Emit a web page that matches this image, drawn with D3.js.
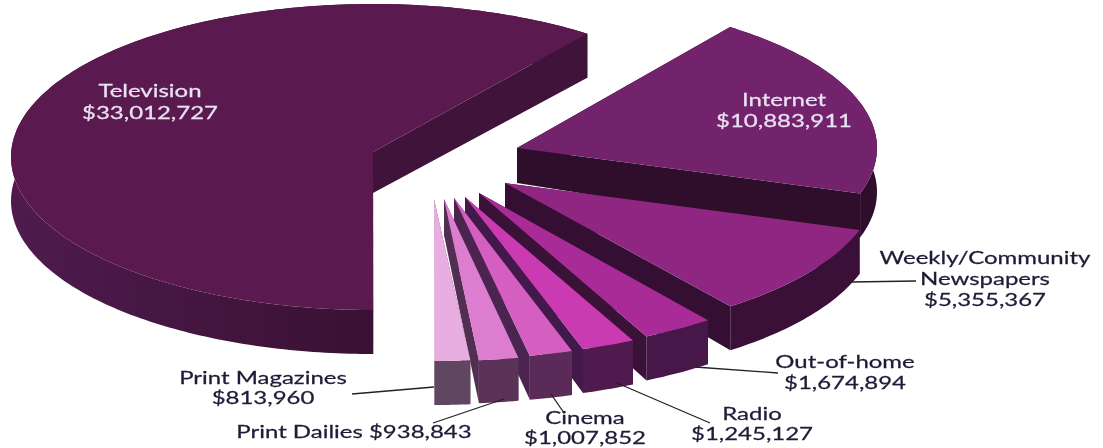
<!DOCTYPE html>
<html><head><meta charset="utf-8">
<script src="https://cdn.jsdelivr.net/npm/d3@7/dist/d3.min.js"></script>
<style>html,body{margin:0;padding:0;background:#fff;overflow:hidden}svg{display:block;filter:blur(0.55px)}text{font-family:Lato,"Open Sans",sans-serif;text-anchor:middle}</style>
</head><body><svg id="c" width="1103" height="448"></svg>
<script>
// data
const categories = ["Internet","Weekly/Community Newspapers","Out-of-home","Radio","Cinema","Print Dailies","Print Magazines","Television"];
const values = [10883911,5355367,1674894,1245127,1007852,938843,813960,33012727];
const valueLabels = ["$10,883,911","$5,355,367","$1,674,894","$1,245,127","$1,007,852","$938,843","$813,960","$33,012,727"];

// styles
const topColors  = ["#73226c","#8f2782","#a82b97","#ca3ab1","#d55fc0","#dd7dd0","#e8aee1","#5a1a4f"];
const rimColors  = ["#2f0e2b","#3a1038","#47174a","#4f1b4f","#5a2a58","#5b3358","#604660","url(#tvRim)"];
const wallColors = ["#2f0e2b","#350f33","#3a1238","#43184a","#4c2450","#522e53","#604660","#40143a"];
// exploded geometry
const apexX = [517,505,479,465,454,444,434,373];
const apexY = [148,183,193,197,198,199,199,152];
const arcShiftY = [0,0,0,0,0,0,0,5];
const radX  = [360,372,378,379,379,372,387,362];
const radY  = [150,155,160,160,161,162,162,153];
const depth = [44,44,44,44,44,43,44,44];
const apexDepth = [35,36,36,36,36,36,36,41];

// annotation layout
const labelLines = [
 [["Internet",784,106,"#e9e2f2"],["$10,883,911",784,127,"#e9e2f2"]],
 [["Weekly/Community",985,264],["Newspapers",985,285],["$5,355,367",985,306]],
 [["Out-of-home",845,368],["$1,674,894",845,389]],
 [["Radio",752,420],["$1,245,127",752,440]],
 [["Cinema",585,424],["$1,007,852",585,444]],
 [["Print Dailies $938,843",354,438]],
 [["Print Magazines",263,384],["$813,960",263,404]],
 [["Television",150,97,"#e9e2f2"],["$33,012,727",150,119,"#e9e2f2"]]
];
const leaders = [null,
 [[851,282],[916,281]],
 [[695,367],[778,373]],
 [[617,383],[710,423]],
 [[551,394],[564,413]],
 [[504,399],[433,423]],
 [[434,387],[352,394]],
 null];

const svg = d3.select("#c");
const grad = svg.append("defs").append("linearGradient").attr("id","tvRim");
grad.append("stop").attr("offset","0%").attr("stop-color","#4f1b4e");
grad.append("stop").attr("offset","55%").attr("stop-color","#3c1237");
grad.append("stop").attr("offset","100%").attr("stop-color","#2e0c2a");

const arcs = d3.pie().sort(null).startAngle(36.3*Math.PI/180).endAngle(36.3*Math.PI/180+2*Math.PI)(values);
const line = d3.line();
const order = [7,0,1,2,3,4,5,6];

order.forEach(i=>{
  const a = arcs[i];
  const pt = (t,dz=0)=>[apexX[i]+radX[i]*Math.sin(t), apexY[i]+arcShiftY[i]-radY[i]*Math.cos(t)+dz];
  const n = Math.max(8,Math.ceil((a.endAngle-a.startAngle)*60));
  const ts = d3.range(n+1).map(k=>a.startAngle+(a.endAngle-a.startAngle)*k/n);
  const topArc = ts.map(t=>pt(t));
  const botArc = ts.map(t=>pt(t,depth[i]));
  const c0=[apexX[i],apexY[i]], c1=[apexX[i],apexY[i]+apexDepth[i]];
  const g = svg.append("g").attr("class","slice");
  const wall = (t)=>line([c0,pt(t),pt(t,depth[i]),c1])+"Z";
  g.append("path").attr("d",wall(a.startAngle)).attr("fill",wallColors[i]);
  g.append("path").attr("d",line(topArc.concat(botArc.slice().reverse()))+"Z").attr("fill",rimColors[i]);
  g.append("path").attr("d",wall(a.endAngle)).attr("fill",wallColors[i]);
  g.append("path").attr("d",line([c0,...topArc])+"Z").attr("fill",topColors[i]);
});

leaders.filter(Boolean).forEach(l=>svg.append("path").attr("d",line(l)).attr("fill","none").attr("stroke","#222").attr("stroke-width",1.3));

labelLines.forEach(ls=>ls.forEach(([s,x,y,col])=>{
  const c = col||"#1c1c38";
  svg.append("text").attr("transform",`translate(${x},${y}) scale(1.37,1)`)
    .attr("font-size",17.5).attr("fill",c).attr("stroke",c).attr("stroke-width",0.25).text(s);
}));
</script></body></html>
